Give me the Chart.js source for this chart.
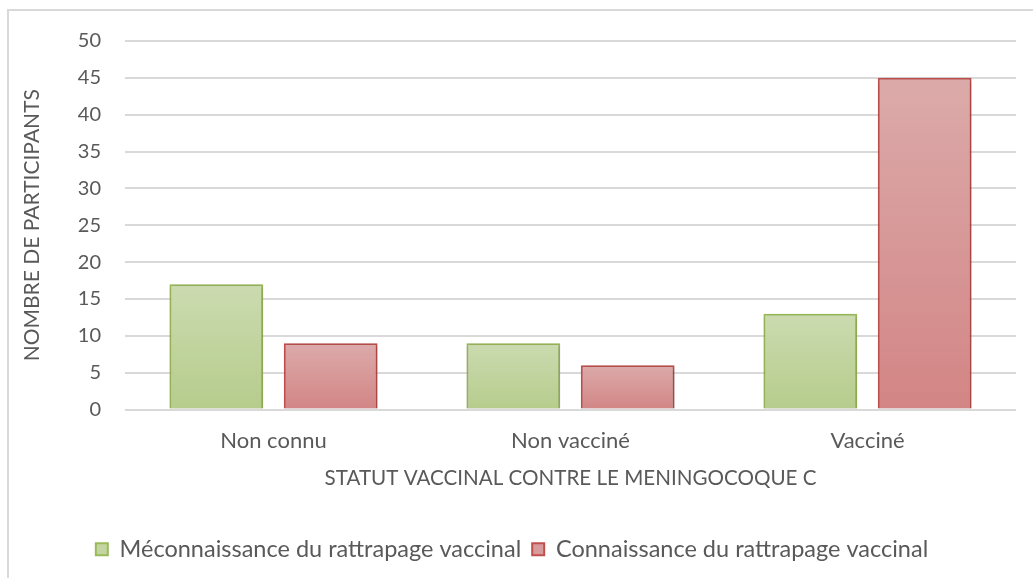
<!DOCTYPE html>
<html>
<head>
<meta charset="utf-8">
<script src="https://cdn.jsdelivr.net/npm/chart.js@4.4.0/dist/chart.umd.min.js"></script>
<style>
html,body{margin:0;padding:0;background:#fff;overflow:hidden;width:1033px;height:578px;}
#wrap{position:relative;width:1033px;height:578px;}
#frame{position:absolute;left:7px;top:9px;width:1200px;height:800px;border:2px solid #d9d9d9;box-sizing:border-box;pointer-events:none;}
canvas{position:absolute;left:0;top:0;}
</style>
</head>
<body>
<div id="wrap">
<canvas id="c" width="1033" height="578"></canvas>
<div id="frame"></div>
</div>
<script>
const categories = ['Non connu', 'Non vaccin\u00e9', 'Vaccin\u00e9'];
const meconnaissance = [17, 9, 13];
const connaissance = [9, 6, 45];
const seriesNames = ['M\u00e9connaissance du rattrapage vaccinal', 'Connaissance du rattrapage vaccinal'];
const xTitle = 'STATUT VACCINAL CONTRE LE MENINGOCOQUE C';
const yTitle = 'NOMBRE DE PARTICIPANTS';

const FONT = 'Lato, "Open Sans", sans-serif';
const TXT = '#595959';

function barGradient(top, bottom, solid) {
  return function(ctx) {
    const chart = ctx.chart;
    if (!chart.chartArea || ctx.type !== 'data') return solid;
    const ys = chart.scales.y;
    const y0 = ys.getPixelForValue(0);
    const y1 = ys.getPixelForValue(ctx.raw);
    const g = chart.ctx.createLinearGradient(0, y1, 0, y0);
    g.addColorStop(0, top);
    g.addColorStop(1, bottom);
    return g;
  };
}

const shadowPlugin = {
  id: 'shadow',
  beforeDatasetsDraw(chart) {
    const c = chart.ctx;
    c.save();
    c.shadowColor = 'rgba(0,0,0,0.22)';
    c.shadowBlur = 4;
    c.shadowOffsetX = 1;
    c.shadowOffsetY = 1;
  },
  afterDatasetsDraw(chart) { chart.ctx.restore(); }
};

new Chart(document.getElementById('c'), {
  type: 'bar',
  data: {
    labels: categories,
    datasets: [
      {
        label: seriesNames[0],
        data: meconnaissance,
        backgroundColor: barGradient('#cbdbb0', '#b6cc8c', '#c3d6a1'),
        borderColor: '#9bbb59',
        borderWidth: 2,
        borderSkipped: 'bottom',
        categoryPercentage: 0.77,
        barPercentage: 0.82
      },
      {
        label: seriesNames[1],
        data: connaissance,
        backgroundColor: barGradient('#dcaaaa', '#d38585', '#d89a9a'),
        borderColor: '#c0504d',
        borderWidth: 2,
        borderSkipped: 'bottom',
        categoryPercentage: 0.77,
        barPercentage: 0.82
      }
    ]
  },
  options: {
    responsive: false,
    animation: false,
    layout: { padding: { left: 8, right: 17, top: 41, bottom: 7 } },
    plugins: {
      tooltip: { enabled: false },
      legend: {
        position: 'bottom',
        labels: {
          color: TXT,
          font: { family: FONT, size: 23.5 },
          boxWidth: 12,
          boxHeight: 12,
          padding: 11,
          generateLabels(chart) {
            return chart.data.datasets.map((ds, i) => ({
              text: ds.label,
              fillStyle: i === 0 ? '#c3d6a1' : '#d89a9a',
              strokeStyle: ds.borderColor,
              lineWidth: 2,
              fontColor: TXT,
              datasetIndex: i,
              hidden: false
            }));
          }
        }
      }
    },
    scales: {
      x: {
        afterFit(scale) { scale.height = 117; },
        grid: { display: false, drawTicks: false },
        border: { display: false },
        ticks: { color: TXT, font: { family: FONT, size: 22 }, padding: 18 },
        title: { display: true, text: xTitle, color: TXT, font: { family: FONT, size: 20.6 }, padding: { top: 4, bottom: 36 } }
      },
      y: {
        afterFit(scale) { scale.width = 117; },
        min: 0,
        max: 50,
        ticks: { stepSize: 5, color: TXT, font: { family: FONT, size: 20 }, padding: 24 },
        grid: { color: '#d9d9d9', lineWidth: 2, drawTicks: false },
        border: { display: false },
        title: { display: true, text: yTitle, color: TXT, font: { family: FONT, size: 21 }, padding: { top: 12, bottom: 0 } }
      }
    }
  },
  plugins: [shadowPlugin]
});
</script>
</body>
</html>
